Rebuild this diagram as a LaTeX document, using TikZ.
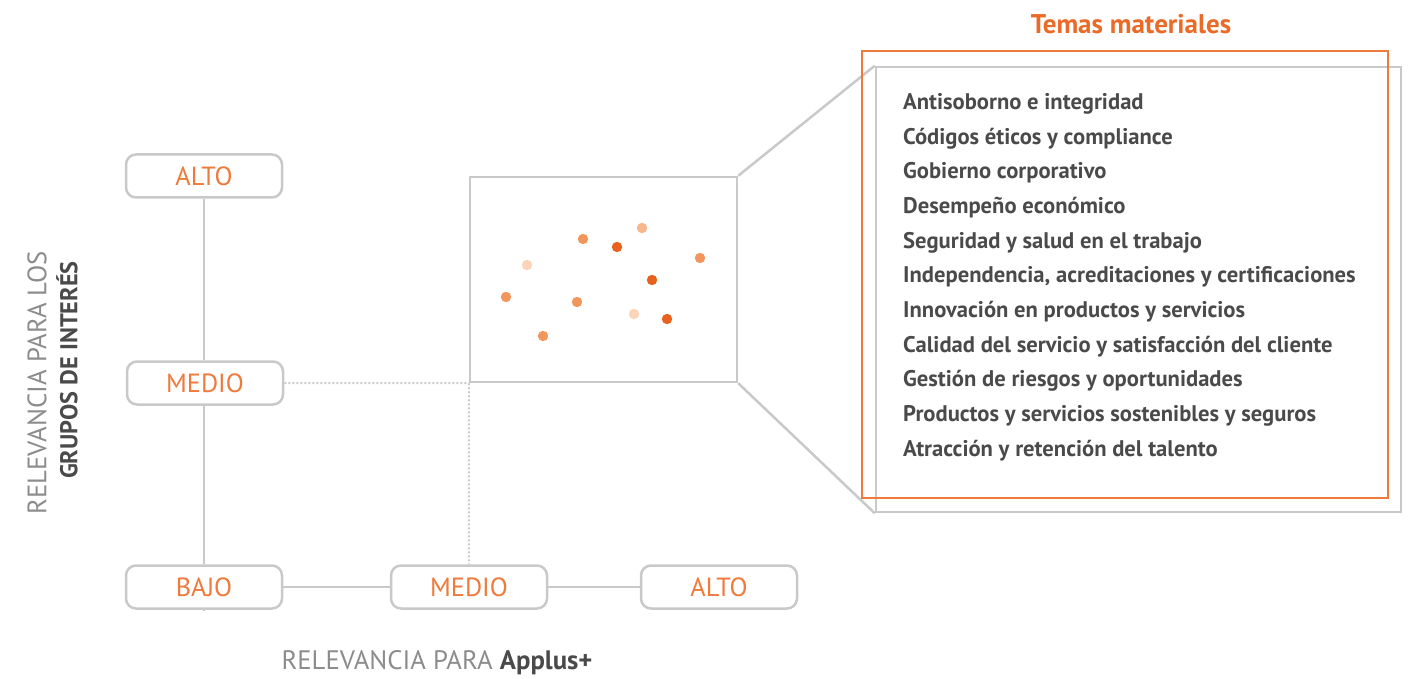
\documentclass[tikz,border=0pt]{standalone}
\usepackage{fontspec}
\setmainfont{PT Sans}
\usetikzlibrary{positioning}

\definecolor{naranja}{HTML}{EE7A3B}
\definecolor{naranjaoscuro}{HTML}{EC6A28}
\definecolor{gris}{HTML}{C9C9C9}
\definecolor{grisclaro}{HTML}{8C8C8C}
\definecolor{grisoscuro}{HTML}{4A4A4A}
\definecolor{puntoA}{HTML}{FCD5B8}
\definecolor{puntoB}{HTML}{F7B68C}
\definecolor{puntoC}{HTML}{F2965E}
\definecolor{puntoD}{HTML}{E8621E}

\begin{document}
\begin{tikzpicture}[x = 1pt, y = -1pt,
        nivel/.style = {draw = gris, line width = 2.5pt, rounded corners = 10pt, fill = white,
            minimum width = 156pt, minimum height = 43pt, text = naranja,
            font = \fontsize{26.3}{26}\selectfont},
        eje/.style = {draw = gris, line width = 2.5pt},
        guia/.style = {draw = gris, line width = 2pt, dotted},
        tema/.style = {anchor = base west, inner sep = 0pt, text = grisoscuro,
            font = \fontsize{22.6}{22}\selectfont\bfseries}]
        \useasboundingbox (0,0) rectangle (1414,679);

        % niveles de los ejes
        \node [nivel] (altoV) at (204,176) {ALTO};
        \node [nivel] (medioV) at (205,383) {MEDIO};
        \node [nivel] (bajo) at (204,587) {BAJO};
        \node [nivel] (medioH) at (469,587) {MEDIO};
        \node [nivel] (altoH) at (719,587) {ALTO};
        \coordinate (pie) at (204,611);

        \draw [eje] (altoV) -- (medioV.north -| altoV);
        \draw [eje] (medioV.south -| altoV) -- (bajo);
        \draw [eje] (bajo) -- (pie);
        \draw [eje] (bajo) -- (medioH);
        \draw [eje] (medioH) -- (altoH);

        % matriz
        \node [draw = gris, line width = 2.5pt, minimum width = 267pt, minimum height = 205pt] (mapa) at (603.5,279.5) {};
        \draw [guia] (medioV.east) -- (mapa.south west);
        \draw [guia] (mapa.south west) -- (medioH.north);

        \foreach \x/\y/\c in {527/265/puntoA, 583/239/puntoC, 617/247/puntoD, 642/228/puntoB,
                700/258/puntoC, 652/280/puntoD, 506/297/puntoC, 577/302/puntoC,
                634/314/puntoA, 667/319/puntoD, 543/336/puntoC}
            \fill [\c] (\x,\y) circle (5.2pt);

        % lista de temas
        \node [draw = gris, line width = 2.5pt, minimum width = 525pt, minimum height = 445pt] (lista) at (1138.5,289.5) {};
        \draw [eje] (mapa.north east) -- (lista.north west);
        \draw [eje] (mapa.south east) -- (lista.south west);
        \node [draw = naranja, line width = 2.5pt, minimum width = 526pt, minimum height = 447pt] (marco) at (1125,274.5) {};
        \node [text = naranjaoscuro, font = \fontsize{27}{27}\selectfont\bfseries] (titulo) at (1131,24) {Temas materiales};

        \foreach \t [count = \i from 0] in {Antisoborno e integridad, Códigos éticos y compliance,
                Gobierno corporativo, Desempeño económico, Seguridad y salud en el trabajo,
                {Independencia, acreditaciones y certificaciones}, Innovación en productos y servicios,
                Calidad del servicio y satisfacción del cliente, Gestión de riesgos y oportunidades,
                Productos y servicios sostenibles y seguros, Atracción y retención del talento}
            \node [tema] (tema\i) at (903, 109.5+34.65*\i) {\t};

        % rotulos de los ejes
        \node [rotate = 90, text = grisclaro, font = \fontsize{26.7}{26}\selectfont] (ejeY) at (37,383) {RELEVANCIA PARA LOS};
        \node [rotate = 90, text = grisoscuro, font = \fontsize{24.3}{24}\selectfont\bfseries] (ejeYb) at (67,370) {GRUPOS DE INTERÉS};
        \node [text = grisclaro, font = \fontsize{26.7}{26}\selectfont] (ejeX) at (437,663) {RELEVANCIA PARA \textcolor{grisoscuro}{\bfseries Applus+}};
\end{tikzpicture}
\end{document}
